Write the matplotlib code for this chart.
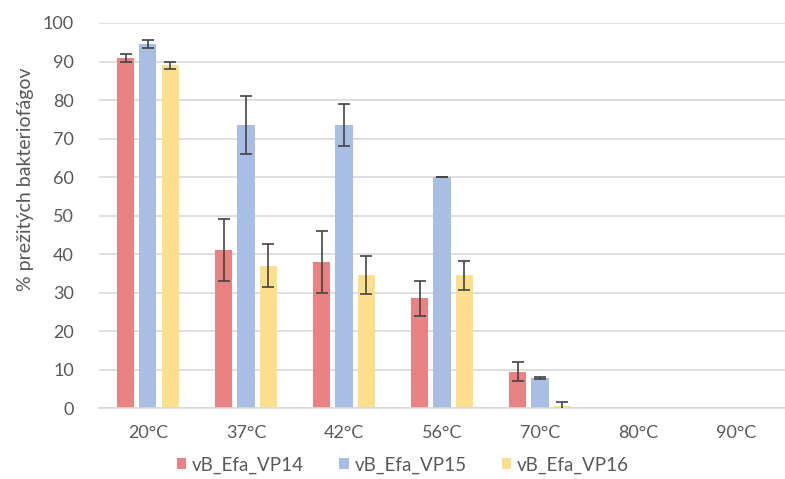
import numpy as np
import matplotlib.pyplot as plt

plt.rcParams['font.family'] = ['Lato', 'DejaVu Sans']

# Survival of phages after heat treatment
temps = ['20°C', '37°C', '42°C', '56°C', '70°C', '80°C', '90°C']
vp14 = [91, 41, 38, 28.5, 9.5, 0, 0]
vp15 = [94.5, 73.5, 73.5, 60, 7.8, 0, 0]
vp16 = [89, 37, 34.5, 34.5, 0.5, 0, 0]
vp14_err = [1, 8, 8, 4.5, 2.5, 0, 0]
vp15_err = [1, 7.5, 5.5, 0.1, 0.3, 0, 0]
vp16_err = [1, 5.5, 5, 3.8, 1, 0, 0]
names = ['vB_Efa_VP14', 'vB_Efa_VP15', 'vB_Efa_VP16']
colors = ['#E98282', '#A8BEE3', '#FDDF8D']

fig = plt.figure(figsize=(7.85, 4.79), dpi=100)
ax = fig.add_axes([0.126, 0.148, 0.874, 0.804])

x = np.arange(len(temps))
w = 0.175
step = 0.228
series = [(vp14, vp14_err), (vp15, vp15_err), (vp16, vp16_err)]
for i, (vals, errs) in enumerate(series):
    pos = x + (i - 1) * step
    ax.bar(pos, vals, width=w, color=colors[i], label=names[i], zorder=2)
    # skip error bars where there are no bars
    m = np.array(vals) > 0
    ax.errorbar(pos[m], np.array(vals)[m], yerr=np.array(errs)[m], fmt='none',
                ecolor='#444444', elinewidth=1.2, capsize=4, capthick=1.2, zorder=3)

ax.set_xlim(-0.5, 6.5)
ax.set_ylim(0, 100)
ax.set_yticks(range(0, 101, 10))
ax.set_xticks(x)
ax.set_xticklabels(temps)
ax.yaxis.grid(True, color='#D9D9D9', linewidth=1.2, zorder=0)
ax.set_axisbelow(True)
for s in ['top', 'right', 'left']:
    ax.spines[s].set_visible(False)
ax.spines['bottom'].set_color('#D9D9D9')
ax.spines['bottom'].set_linewidth(1.2)
ax.tick_params(axis='both', length=0, labelsize=13, colors='#595959')
ax.tick_params(axis='x', pad=12)
ax.tick_params(axis='y', pad=18)
ax.set_ylabel('% prežitých bakteriofágov', fontsize=14, color='#595959')
ax.yaxis.set_label_coords(-0.094, 0.595)

ax.legend(loc='center', bbox_to_anchor=(0.443, -0.148), ncol=3, frameon=False,
          fontsize=13.5, labelcolor='#595959', handlelength=0.5, handleheight=0.5,
          handletextpad=0.3, columnspacing=1.9)

fig.savefig('out.png', dpi=100)
